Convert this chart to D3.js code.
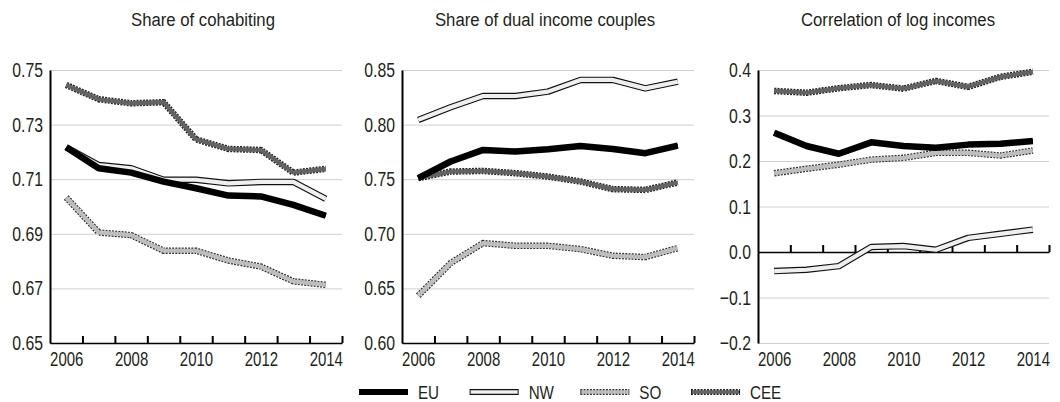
<!DOCTYPE html>
<html>
<head>
<meta charset="utf-8">
<script src="https://cdn.jsdelivr.net/npm/d3@7"></script>
<style>
  body { margin: 0; background: #fff; }
  svg text { font-family: "Liberation Sans", Arial, sans-serif; fill: #231f20; }
</style>
</head>
<body>
<svg id="chart" width="1060" height="402"></svg>
<script>
// data
const years = [2006, 2007, 2008, 2009, 2010, 2011, 2012, 2013, 2014]
const yearLabels = [2006, 2008, 2010, 2012, 2014]
const seriesNames = ['EU', 'NW', 'SO', 'CEE']

// Share of cohabiting
const cohabEU  = [0.7217, 0.7140, 0.7124, 0.7091, 0.7067, 0.7040, 0.7037, 0.7006, 0.6966]
const cohabNW  = [0.7217, 0.7152, 0.7140, 0.7098, 0.7098, 0.7085, 0.7090, 0.7090, 0.7028]
const cohabSO  = [0.7033, 0.6905, 0.6895, 0.6838, 0.6838, 0.6802, 0.6780, 0.6726, 0.6713]
const cohabCEE = [0.7445, 0.7393, 0.7378, 0.7382, 0.7246, 0.7211, 0.7207, 0.7124, 0.7138]
const cohabTicks = [0.65, 0.67, 0.69, 0.71, 0.73, 0.75]

// Share of dual income couples
const dualEU  = [0.7509, 0.7662, 0.7768, 0.7753, 0.7774, 0.7805, 0.7777, 0.7738, 0.7808]
const dualNW  = [0.8043, 0.8159, 0.8262, 0.8262, 0.8302, 0.8409, 0.8409, 0.8332, 0.8393]
const dualSO  = [0.6433, 0.6732, 0.6915, 0.6890, 0.6890, 0.6860, 0.6799, 0.6787, 0.6869]
const dualCEE = [0.7510, 0.7570, 0.7576, 0.7555, 0.7524, 0.7479, 0.7409, 0.7402, 0.7470]
const dualTicks = [0.60, 0.65, 0.70, 0.75, 0.80, 0.85]

// Correlation of log incomes
const corrEU  = [0.262, 0.233, 0.216, 0.241, 0.233, 0.229, 0.236, 0.238, 0.244]
const corrNW  = [-0.042, -0.039, -0.031, 0.011, 0.013, 0.005, 0.031, 0.040, 0.049]
const corrSO  = [0.173, 0.183, 0.192, 0.203, 0.207, 0.218, 0.218, 0.212, 0.223]
const corrCEE = [0.354, 0.350, 0.360, 0.367, 0.359, 0.376, 0.363, 0.385, 0.396]
const corrTicks = [-0.2, -0.1, 0.0, 0.1, 0.2, 0.3, 0.4]

const svg = d3.select('#chart')
const plotTop = 70, plotBottom = 343

// how each series is drawn: outline colour/dash, then inner colour
const styles = {
  EU:  { outer: '#000', dash: null, inner: '#000' },
  NW:  { outer: '#111', dash: null, inner: '#efefef' },
  SO:  { outer: '#333', dash: '2,1.2', inner: '#bdbdbd' },
  CEE: { outer: '#222', dash: '2,1.2', inner: '#636363' }
}

// no narrow font installed -> squeeze Liberation Sans horizontally
function narrow(sel, origin, k) {
  sel.style('transform-box', 'fill-box')
    .style('transform-origin', origin)
    .style('transform', 'scaleX(' + (k || 0.8) + ')')
}

function drawPanel(opts) {
  const x = d3.scaleLinear().domain([2005.5, 2014.5]).range([opts.left, opts.right])
  const y = d3.scaleLinear().domain(opts.domain).range([plotBottom, plotTop])
  const g = svg.append('g')

  // grid
  g.append('g')
    .attr('transform', 'translate(' + opts.left + ',0)')
    .call(d3.axisLeft(y).tickValues(opts.ticks).tickSize(-(opts.right - opts.left)).tickFormat(''))
    .call(s => s.select('.domain').remove())
    .call(s => s.selectAll('line').attr('stroke', '#cfcfcf').attr('stroke-width', 1))

  // y labels + axis line
  g.append('g')
    .attr('transform', 'translate(' + opts.left + ',0)')
    .call(d3.axisLeft(y).tickValues(opts.ticks).tickSize(0).tickPadding(7).tickFormat(opts.fmt))
    .call(s => s.select('.domain').attr('stroke', '#000').attr('stroke-width', 2))
    .call(s => s.selectAll('text').style('font-size', '20.5px').call(narrow, 'right center', 0.77))

  // x axis line with upward ticks at year boundaries
  const zeroY = y(opts.axisAt)
  g.append('g')
    .attr('transform', 'translate(0,' + zeroY + ')')
    .call(d3.axisBottom(x).tickValues(years.map(d => d + 0.5)).tickSizeInner(-7).tickSizeOuter(0).tickFormat(''))
    .call(s => s.select('.domain').attr('stroke', '#000').attr('stroke-width', 1.5))
    .call(s => s.selectAll('line').attr('stroke', '#000').attr('stroke-width', 2))

  // year labels at the bottom
  g.append('g')
    .attr('transform', 'translate(0,' + plotBottom + ')')
    .call(d3.axisBottom(x).tickValues(yearLabels).tickSize(0).tickPadding(8).tickFormat(d3.format('d')))
    .call(s => s.select('.domain').remove())
    .call(s => s.selectAll('text').style('font-size', '20.5px').call(narrow, 'center', 0.73))

  const line = d3.line().x((d, i) => x(years[i])).y(d => y(d))

  opts.order.forEach(name => {
    const vals = opts.series[name]
    const st = styles[name]
    g.append('path')
      .datum(vals)
      .attr('fill', 'none')
      .attr('stroke', st.outer)
      .attr('stroke-width', 6.5)
      .attr('stroke-dasharray', st.dash)
      .attr('stroke-linejoin', 'round')
      .attr('d', line)
    g.append('path')
      .datum(vals)
      .attr('fill', 'none')
      .attr('stroke', st.inner)
      .attr('stroke-width', 4.2)
      .attr('stroke-linejoin', 'round')
      .attr('d', line)
  })

  svg.append('text')
    .attr('x', opts.titleX)
    .attr('y', 26)
    .attr('text-anchor', 'middle')
    .style('font-size', '19px')
    .text(opts.title)
    .call(narrow, 'center', 0.88)
}

drawPanel({
  title: 'Share of cohabiting', titleX: 203,
  left: 50, right: 342, domain: [0.65, 0.75], ticks: cohabTicks,
  fmt: d3.format('.2f'), axisAt: 0.65,
  series: { EU: cohabEU, NW: cohabNW, SO: cohabSO, CEE: cohabCEE },
  order: ['SO', 'CEE', 'NW', 'EU']
})

drawPanel({
  title: 'Share of dual income couples', titleX: 545,
  left: 402, right: 694, domain: [0.60, 0.85], ticks: dualTicks,
  fmt: d3.format('.2f'), axisAt: 0.60,
  series: { EU: dualEU, NW: dualNW, SO: dualSO, CEE: dualCEE },
  order: ['SO', 'NW', 'CEE', 'EU']
})

drawPanel({
  title: 'Correlation of log incomes', titleX: 898,
  left: 758, right: 1049, domain: [-0.2, 0.4], ticks: corrTicks,
  fmt: d3.format('.1f'), axisAt: 0,
  series: { EU: corrEU, NW: corrNW, SO: corrSO, CEE: corrCEE },
  order: ['NW', 'SO', 'CEE', 'EU']
})

// legend
const legendX = d3.scalePoint().domain(seriesNames).range([359, 691])
const legend = svg.append('g').attr('transform', 'translate(0,392)')
seriesNames.forEach(name => {
  const st = styles[name]
  const x0 = legendX(name)
  legend.append('line')
    .attr('x1', x0).attr('x2', x0 + 49)
    .attr('stroke', st.outer).attr('stroke-width', 6)
    .attr('stroke-dasharray', st.dash)
  legend.append('line')
    .attr('x1', x0 + 1).attr('x2', x0 + 48)
    .attr('stroke', st.inner).attr('stroke-width', name === 'EU' ? 6 : 3.6)
  legend.append('text')
    .attr('x', x0 + 59)
    .attr('y', 7)
    .style('font-size', '19px')
    .text(name)
    .call(narrow, 'left center', 0.8)
})
</script>
</body>
</html>
